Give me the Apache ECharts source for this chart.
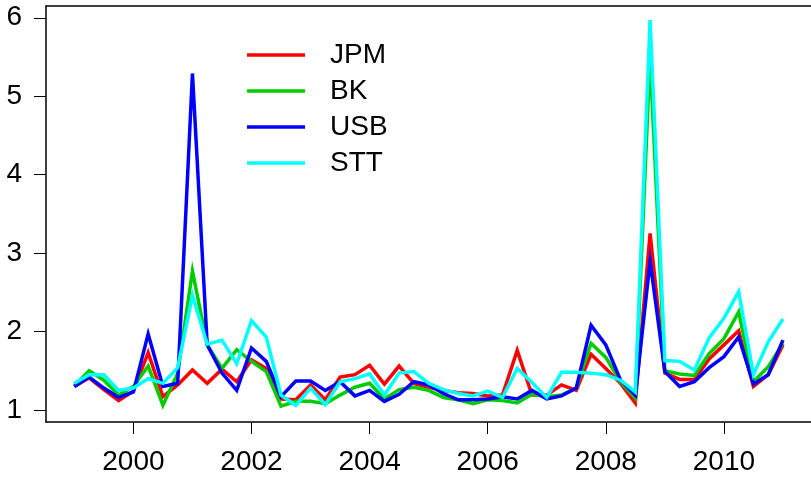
<!DOCTYPE html>
<html>
<head>
<meta charset="utf-8">
<script src="https://cdn.jsdelivr.net/npm/echarts@6/dist/echarts.min.js"></script>
<style>html,body{margin:0;padding:0;background:#fff}#c{width:811px;height:477px}</style>
</head>
<body>
<div id="c"></div>
<script>
const startYear = 1999;
const step = 0.25;
const xTicks = [2000, 2002, 2004, 2006, 2008, 2010];
const yTicks = [1, 2, 3, 4, 5, 6];
const seriesNames = ['JPM', 'BK', 'USB', 'STT'];
const JPM = [1.30,1.41,1.26,1.12,1.24,1.73,1.17,1.32,1.51,1.34,1.52,1.36,1.64,1.53,1.14,1.13,1.32,1.13,1.42,1.45,1.57,1.33,1.56,1.34,1.29,1.25,1.22,1.21,1.18,1.19,1.76,1.19,1.19,1.32,1.25,1.71,1.53,1.34,1.09,3.25,1.47,1.39,1.39,1.65,1.83,2.01,1.30,1.45,1.83];
const BK  = [1.31,1.50,1.38,1.19,1.30,1.56,1.06,1.47,2.77,1.83,1.53,1.77,1.62,1.49,1.05,1.11,1.11,1.08,1.19,1.29,1.34,1.14,1.26,1.29,1.25,1.16,1.13,1.08,1.13,1.12,1.09,1.20,1.17,1.19,1.28,1.85,1.67,1.36,1.15,5.50,1.50,1.46,1.44,1.72,1.91,2.25,1.36,1.55,1.85];
const USB = [1.30,1.42,1.28,1.16,1.23,1.97,1.30,1.34,5.29,1.83,1.47,1.25,1.79,1.62,1.17,1.37,1.37,1.25,1.36,1.18,1.25,1.11,1.20,1.36,1.32,1.21,1.13,1.13,1.14,1.17,1.14,1.25,1.14,1.18,1.28,2.08,1.83,1.38,1.19,2.90,1.49,1.30,1.36,1.54,1.68,1.93,1.33,1.45,1.89];
const STT = [1.34,1.45,1.45,1.25,1.28,1.40,1.34,1.54,2.46,1.84,1.89,1.59,2.14,1.93,1.19,1.06,1.28,1.07,1.36,1.40,1.46,1.19,1.47,1.49,1.34,1.26,1.21,1.18,1.24,1.16,1.53,1.35,1.16,1.48,1.48,1.47,1.45,1.38,1.23,5.97,1.63,1.62,1.51,1.92,2.17,2.51,1.45,1.87,2.16];
const colors = ['#FF0000', '#00CD00', '#0000FF', '#00FFFF'];

const allData = [JPM, BK, USB, STT];
const font = '"Liberation Sans", Arial, Helvetica, sans-serif';

const chart = echarts.init(document.getElementById('c'), null, {renderer: 'canvas'});
const series = seriesNames.map((name, k) => ({
  name: name,
  type: 'line',
  symbol: 'none',
  smooth: false,
  animation: false,
  data: allData[k].map((v, i) => [startYear + i * step, v]),
  lineStyle: {color: colors[k], width: 3.5, join: 'miter'},
  itemStyle: {color: colors[k]}
}));

chart.setOption({
  animation: false,
  backgroundColor: '#fff',
  grid: {left: 46, right: 0, top: 6, bottom: 55, containLabel: false},
  legend: {
    orient: 'vertical',
    left: 247,
    top: 41,
    padding: 0,
    itemWidth: 58,
    itemHeight: 3.5,
    itemGap: 8,
    icon: 'rect',
    data: seriesNames,
    textStyle: {fontSize: 28, fontFamily: font, color: '#000', lineHeight: 28, padding: [0, 0, 0, 20]},
    selectedMode: false
  },
  xAxis: [{
    type: 'value',
    min: 1998.52,
    max: 2011.475,
    splitLine: {show: false},
    axisLine: {show: true, onZero: false, lineStyle: {color: '#000', width: 1.5}},
    axisTick: {show: true, length: 12, lineStyle: {color: '#000', width: 1}, customValues: xTicks},
    axisLabel: {show: true, customValues: xTicks, fontSize: 28, fontFamily: font, color: '#000', margin: 26, formatter: v => String(v)}
  }, {
    type: 'value',
    position: 'top',
    min: 1998.52,
    max: 2011.475,
    splitLine: {show: false},
    axisLine: {show: true, onZero: false, lineStyle: {color: '#000', width: 1.5}},
    axisTick: {show: false},
    axisLabel: {show: false}
  }],
  yAxis: {
    type: 'value',
    min: 0.847,
    max: 6.15,
    splitLine: {show: false},
    axisLine: {show: true, onZero: false, lineStyle: {color: '#000', width: 1.5}},
    axisTick: {show: true, length: 12, lineStyle: {color: '#000', width: 1}, customValues: yTicks},
    axisLabel: {show: true, customValues: yTicks, fontSize: 28, fontFamily: font, color: '#000', margin: 24, formatter: v => String(v)}
  },
  series: series
});
</script>
</body>
</html>
